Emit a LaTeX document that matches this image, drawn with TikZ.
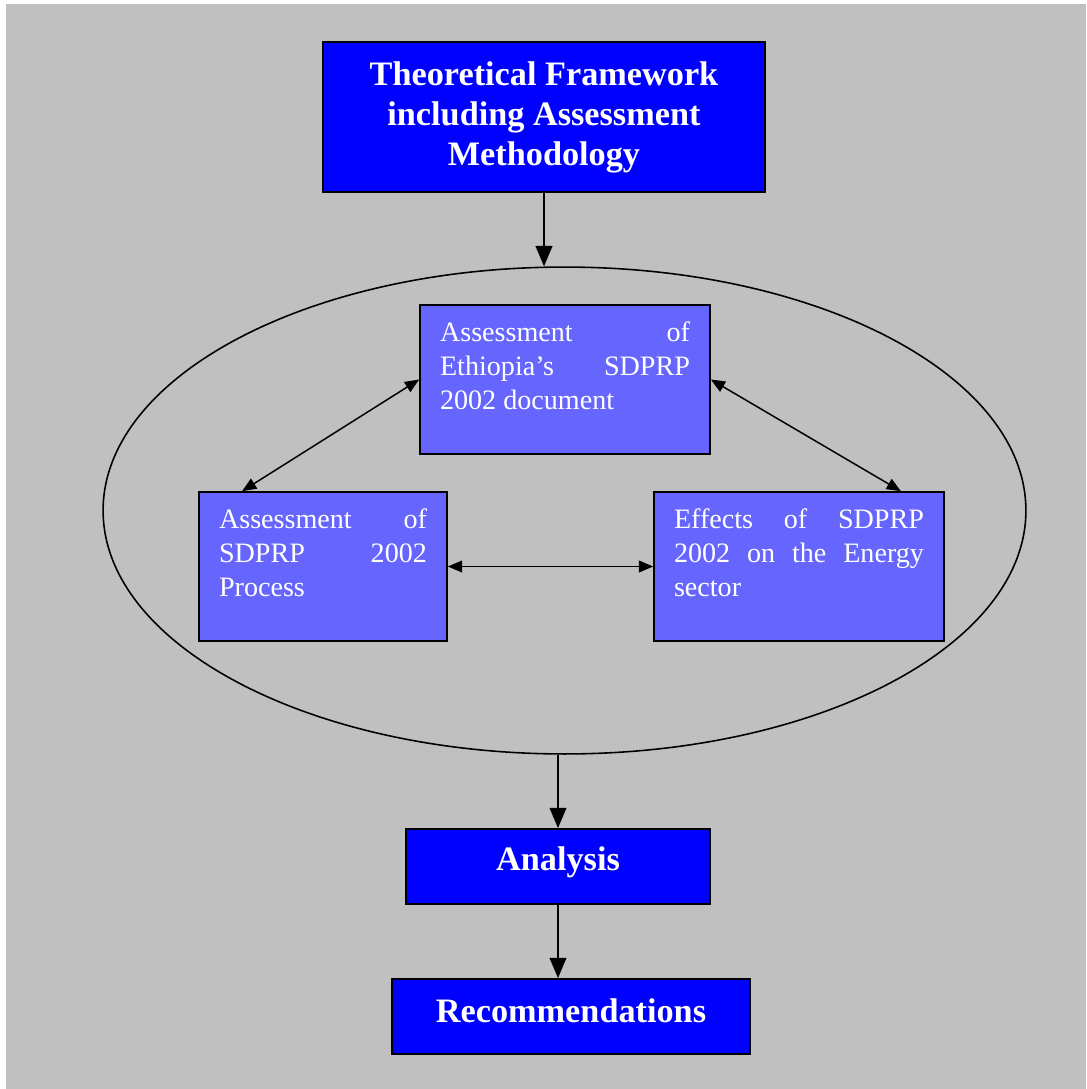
\documentclass[tikz,border=0pt]{standalone}
\usepackage{fontspec}
\setmainfont{Liberation Serif}
\usepackage{tikz}
\usetikzlibrary{arrows,positioning,shapes.geometric,calc}
\definecolor{paper}{RGB}{192,192,192}
\definecolor{deepblue}{RGB}{0,0,255}
\definecolor{softblue}{RGB}{102,102,255}
\tikzstyle{every main box} = []
\tikzstyle{every sub box} = []
\tikzstyle{main box} = [rectangle, draw, black, line width=1.1pt, fill=deepblue,
text=white, font=\bfseries\fontsize{19.5}{22.8}\selectfont, align=center,
every main box]
\tikzstyle{sub box} = [rectangle, draw, black, line width=1pt, fill=softblue,
text=white, font=\fontsize{16}{19.3}\selectfont, inner xsep=0.4cm, inner ysep=0.34cm,
every sub box]
\tikzstyle{ring} = [ellipse, draw, black, line width=0.9pt, inner sep=0pt,
minimum width=18.46cm, minimum height=9.74cm]
\tikzstyle{flow} = [>=triangle 45, draw, black, line width=1.7pt, ->]
\tikzstyle{link} = [>=triangle 45, draw, black, line width=0.85pt, <->]
\newcommand{\justtext}[3]{\parbox[c][#1][t]{#2}{#3}}

\begin{document}
\begin{tikzpicture}[x=0.02cm, y=-0.02cm]
	\useasboundingbox (0,0) rectangle (1086,1089);
	\fill[paper] (6,4) rectangle (1086,1089);

	\node[main box, minimum width=8.84cm, minimum height=3cm] (theory) at (544,117)
		{Theoretical Framework\\including Assessment\\Methodology};
	\node[ring] (core) at (564.5,510.5) {};

	\node[sub box, minimum width=5.8cm, minimum height=2.98cm] (ethiopia) at (565,379.5)
		{\justtext{2.3cm}{5cm}{Assessment of Ethiopia's SDPRP 2002 document}};
	\node[sub box, minimum width=4.96cm, minimum height=2.98cm] (process) at (323,566.5)
		{\justtext{2.3cm}{4.16cm}{Assessment of SDPRP 2002 Process}};
	\node[sub box, minimum width=5.8cm, minimum height=2.98cm] (energy) at (799,566.5)
		{\justtext{2.3cm}{5cm}{Effects of SDPRP 2002 on the Energy sector}};

	\node[main box, minimum width=6.08cm, minimum height=1.5cm, text depth=0.3cm] (analysis) at (558,866.5) {Analysis};
	\node[main box, minimum width=7.16cm, minimum height=1.5cm, text depth=0.24cm] (recom) at (571,1016.5) {Recommendations};

	\draw[flow] (theory.south) -- (core.north -| theory.south);
	\draw[link] (ethiopia.west) -- ([xshift=0.88cm]process.north west);
	\draw[link] (ethiopia.east) -- ([xshift=-0.88cm]energy.north east);
	\draw[link] (process.east) -- (energy.west);
	\draw[flow] (core.south -| analysis.north) -- (analysis.north);
	\draw[flow] (analysis.south) -- (analysis.south |- recom.north);
\end{tikzpicture}
\end{document}
